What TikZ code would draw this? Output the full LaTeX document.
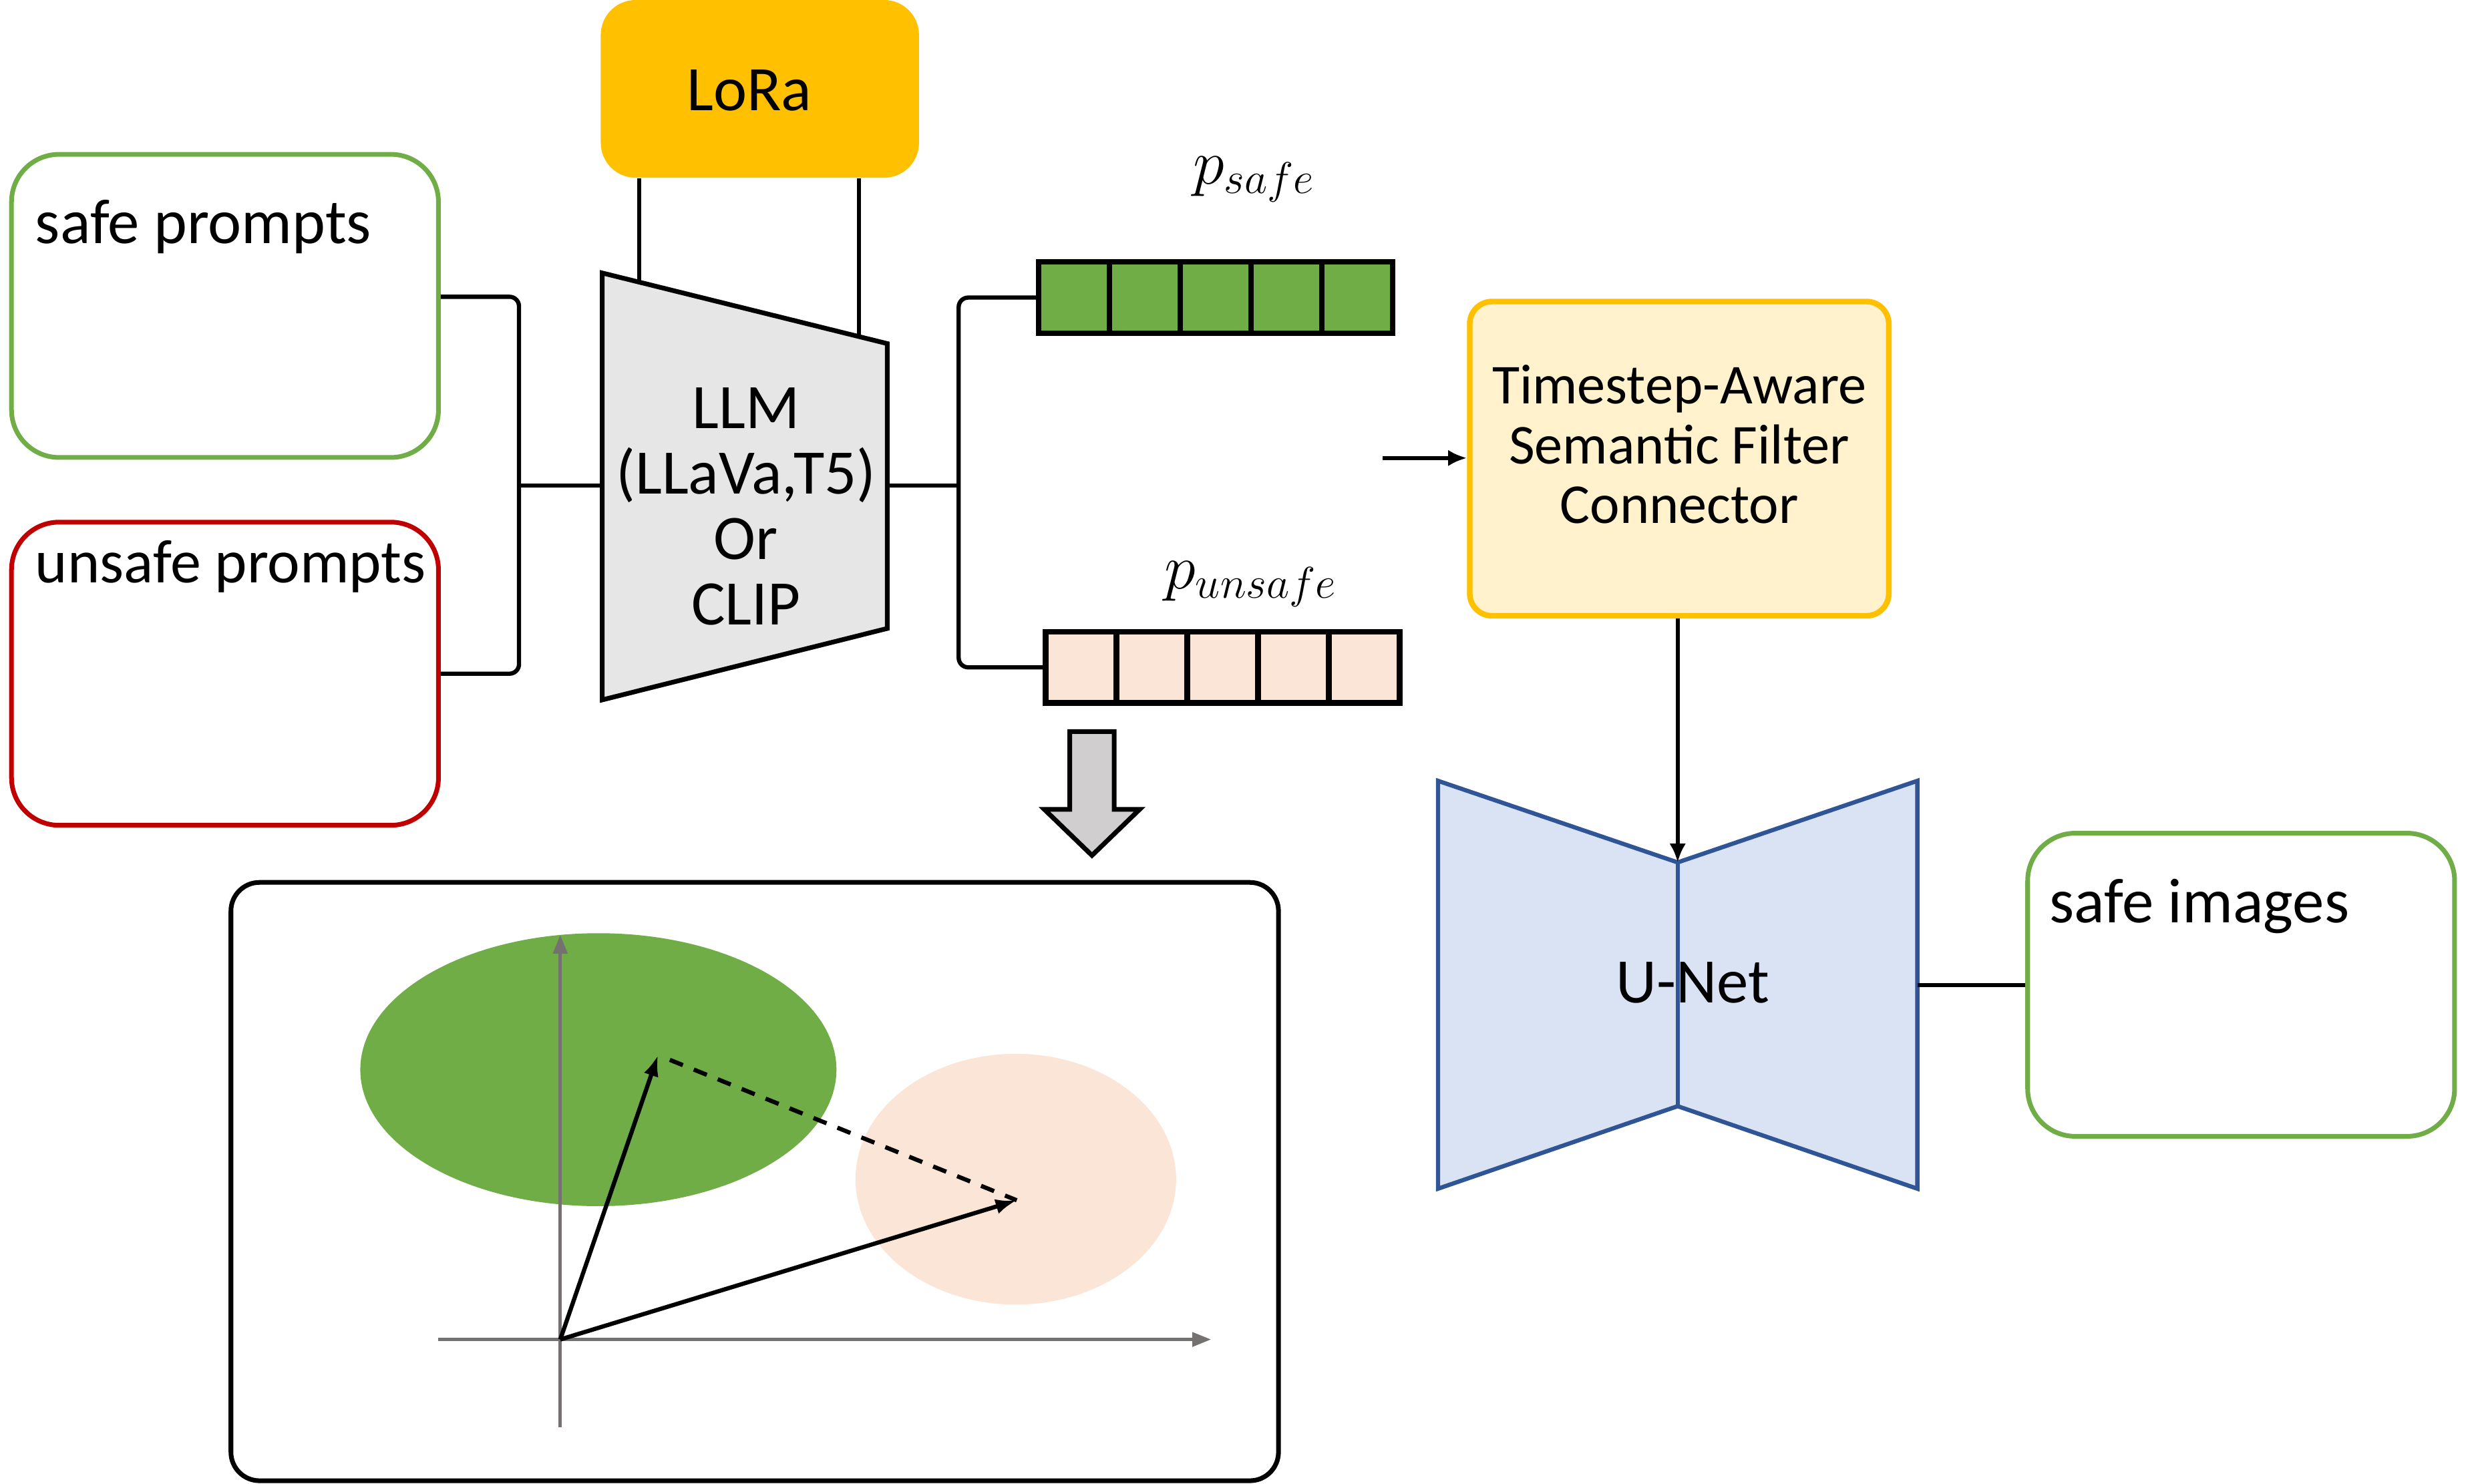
\documentclass[tikz,border=0pt]{standalone}
\usepackage{fix-cm}
\usepackage{fontspec}
\setmainfont{Carlito}
\usetikzlibrary{arrows.meta,calc}

\definecolor{safegreen}{HTML}{70AD47}
\definecolor{unsafered}{HTML}{C00000}
\definecolor{loraorange}{HTML}{FFC000}
\definecolor{llmgray}{HTML}{E7E6E6}
\definecolor{unsafepeach}{HTML}{FBE5D6}
\definecolor{filteryellow}{HTML}{FFF2CC}
\definecolor{unetblue}{HTML}{DAE3F3}
\definecolor{unetedge}{HTML}{2F5597}
\definecolor{blockgray}{HTML}{D0CECE}
\definecolor{axisgray}{HTML}{767171}

\newcommand{\dpx}{0.023763cm}

\begin{document}
\begin{tikzpicture}[x=\dpx, y=-\dpx,
		txt/.style={font=\fontsize{27}{27.9}\selectfont, inner sep=0pt},
		smalltxt/.style={font=\fontsize{24}{25.4}\selectfont, inner sep=0pt},
		conn/.style={line width=1.8pt},
		arr/.style={line width=1.8pt, -{Latex[length=8pt,width=7pt]}},
		vec/.style={line width=1.8pt, -{Latex[length=9pt,width=6.5pt]}},
		axis/.style={line width=1.4pt, axisgray, -{Triangle[length=8pt,width=6pt]}},
		promptbox/.style={line width=2pt, rounded corners=30*\dpx, minimum width=269*\dpx, minimum height=191*\dpx},
		lorabox/.style={fill=loraorange, rounded corners=22*\dpx, minimum width=200.5*\dpx, minimum height=112*\dpx},
		cell/.style={draw, line width=2.4pt, minimum width=44.6*\dpx, minimum height=45*\dpx, inner sep=0pt},
		tsfbox/.style={draw=loraorange, fill=filteryellow, line width=2.4pt, rounded corners=14*\dpx, minimum width=264*\dpx, minimum height=198*\dpx},
		panel/.style={draw, line width=2pt, rounded corners=18*\dpx, minimum width=660*\dpx, minimum height=377*\dpx}]
	
	\useasboundingbox (0,0) rectangle (1560,935.07);
	
	\node [lorabox] (lora) at (478.75,56) {};
	\node [txt] (loratxt) at (472,57) {LoRa};
	
	\node [promptbox, draw=safegreen] (safe) at (141.75,192.75) {};
	\node [txt, anchor=base west] (safetxt) at (22,153.6) {safe prompts};
	\node [promptbox, draw=unsafered] (unsafe) at (141.75,424.5) {};
	\node [txt, anchor=base west, font=\fontsize{26.2}{27}\selectfont] (unsafetxt) at (22,367) {unsafe prompts};
	
	\coordinate (llmtl) at (379.4,172);
	\coordinate (llmtr) at (559,216.5);
	\coordinate (llmbr) at (559,396);
	\coordinate (llmbl) at (379.4,441);
	\draw [line width=2pt, fill=llmgray] (llmtl) -- (llmtr) -- (llmbr) -- (llmbl) -- cycle;
	\node [txt, align=center] (llm) at (470,319) {LLM\\(LLaVa,T5)\\Or\\CLIP};
	
	\coordinate (loraleft) at ($(llmtl)!0.13!(llmtr)$);
	\coordinate (loraright) at ($(llmtl)!0.9!(llmtr)$);
	\draw [conn] (lora.south -| loraleft) -- (loraleft);
	\draw [conn] (lora.south -| loraright) -- (loraright);
	
	\coordinate (ltop) at (327,187);
	\coordinate (ljoin) at (327,306);
	\draw [conn, rounded corners=6*\dpx] (safe.east |- ltop) -| (ljoin) |- (unsafe.east);
	\draw [conn] (ljoin) -- (llmtl |- ljoin);
	
	\foreach \i in {0,...,4}
		\node [cell, fill=safegreen] (s\i) at ({676.7+\i*44.6},187.5) {};
	\foreach \i in {0,...,4}
		\node [cell, fill=unsafepeach] (u\i) at ({681.1+\i*44.6},420.5) {};
	\node [txt] (psafe) at (790,113) {$p_{safe}$};
	\node [txt] (punsafe) at (788,368) {$p_{unsafe}$};
	
	\coordinate (rjoin) at (604,306);
	\draw [conn] (llmtr |- rjoin) -- (rjoin);
	\draw [conn, rounded corners=6*\dpx] (s0.west) -| (rjoin) |- (u0.west);
	
	\node [tsfbox] (tsf) at (1058,289) {};
	\node [smalltxt, align=center] (tsftxt) at (1058,280) {Timestep-Aware\\Semantic Filter\\Connector};
	\coordinate (tsfin) at (871,288.6);
	\draw [arr] (tsfin) -- (tsf.west |- tsfin);
	
	\coordinate (unettl) at (906,492);
	\coordinate (unetn) at (1057,543.4);
	\coordinate (unettr) at (1208,492);
	\coordinate (unetbr) at (1208,749);
	\coordinate (unets) at (1057,697);
	\coordinate (unetbl) at (906,749);
	\draw [line width=1.8pt, draw=unetedge, fill=unetblue] (unettl) -- (unetn) -- (unettr) -- (unetbr) -- (unets) -- (unetbl) -- cycle;
	\draw [line width=1.8pt, draw=unetedge] (unetn) -- (unets);
	\node [txt] (unet) at (1066.5,619) {U-Net};
	\draw [arr] (tsf.south -| unetn) -- (unetn);
	
	\node [promptbox, draw=safegreen] (imgs) at (1412,620.5) {};
	\node [txt, anchor=base west] (imgstxt) at (1291,581.5) {safe images};
	\coordinate (unetout) at (1208,620.6);
	\draw [conn] (unetout) -- (imgs.west |- unetout);
	
	\draw [line width=2pt, fill=blockgray] (674,461) -- (702,461) -- (702,510) -- (718,510) -- (688,539) -- (658,510) -- (674,510) -- cycle;
	
	\node [panel] (space) at (475.5,744.5) {};
	\fill [safegreen] (377,674) ellipse [x radius=150, y radius=86];
	\fill [unsafepeach] (640,743) ellipse [x radius=101, y radius=79];
	\coordinate (org) at (353,844);
	\draw [axis] (276,844) -- (763,844);
	\draw [axis] (353,899.5) -- (353,589);
	\coordinate (vsafe) at (414.6,664.8);
	\coordinate (vunsafe) at (640.6,756.3);
	\draw [vec] (org) -- (vsafe);
	\draw [vec] (org) -- (vunsafe);
	\draw [line width=1.8pt, dash pattern=on 6pt off 5pt, shorten <=8*\dpx] (vsafe) -- (vunsafe);
\end{tikzpicture}
\end{document}
